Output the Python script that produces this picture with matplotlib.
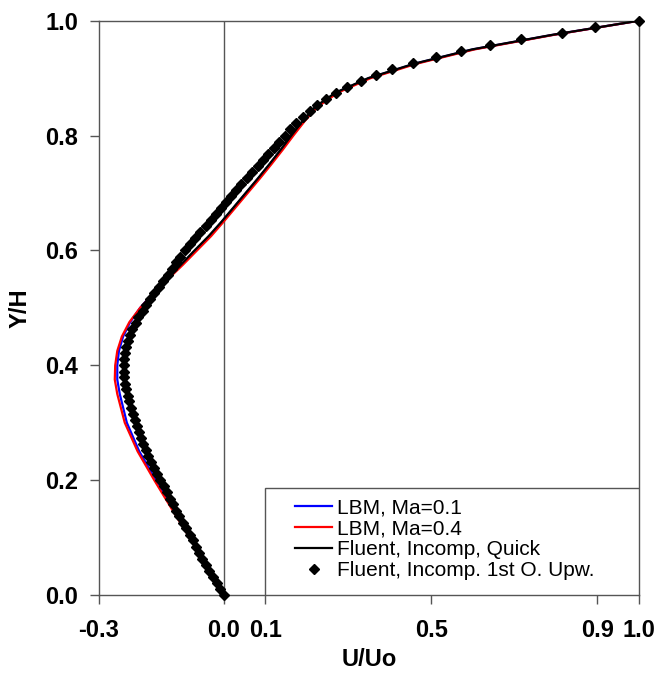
import matplotlib
matplotlib.use("Agg")
import matplotlib.pyplot as plt
from matplotlib.patches import Rectangle

plt.rcParams['font.family'] = ['Liberation Sans', 'DejaVu Sans']
plt.rcParams['axes.unicode_minus'] = False

# ---- data ----
y_lbm = [0.000, 0.050, 0.100, 0.150, 0.200, 0.250, 0.300, 0.350, 0.375, 0.400,
         0.425, 0.450, 0.475, 0.500, 0.525, 0.550, 0.575, 0.600, 0.625, 0.650,
         0.675, 0.700, 0.725, 0.750, 0.775, 0.800, 0.825, 0.850, 0.875, 0.900,
         0.925, 0.950, 0.975, 1.000]
u_lbm01 = [0.000, -0.040, -0.080, -0.122, -0.163, -0.203, -0.233, -0.250, -0.256, -0.256,
           -0.252, -0.242, -0.225, -0.201, -0.171, -0.137, -0.102, -0.068, -0.034, -0.004,
           0.025, 0.054, 0.083, 0.111, 0.138, 0.164, 0.191, 0.222, 0.272, 0.350,
           0.460, 0.600, 0.790, 1.000]
u_lbm04 = [0.000, -0.041, -0.082, -0.125, -0.167, -0.207, -0.238, -0.256, -0.262, -0.261,
           -0.256, -0.245, -0.227, -0.201, -0.169, -0.134, -0.098, -0.064, -0.030, 0.000,
           0.029, 0.058, 0.087, 0.115, 0.142, 0.168, 0.195, 0.226, 0.276, 0.354,
           0.464, 0.604, 0.792, 1.000]
u_quick = [0.000, -0.041, -0.078, -0.118, -0.153, -0.186, -0.213, -0.233, -0.239, -0.241,
           -0.237, -0.229, -0.212, -0.192, -0.165, -0.136, -0.103, -0.070, -0.036, -0.005,
           0.024, 0.053, 0.082, 0.110, 0.137, 0.163, 0.190, 0.220, 0.270, 0.348,
           0.458, 0.598, 0.788, 1.000]

y_upw = [0.000, 0.011, 0.021, 0.032, 0.042, 0.053, 0.063, 0.074, 0.084, 0.095,
         0.105, 0.116, 0.126, 0.137, 0.147, 0.158, 0.168, 0.179, 0.189, 0.200,
         0.211, 0.221, 0.232, 0.242, 0.253, 0.263, 0.274, 0.284, 0.295, 0.305,
         0.316, 0.326, 0.337, 0.347, 0.358, 0.368, 0.379, 0.389, 0.400, 0.411,
         0.421, 0.432, 0.442, 0.453, 0.463, 0.474, 0.484, 0.495, 0.505, 0.516,
         0.526, 0.537, 0.547, 0.558, 0.568, 0.579, 0.589, 0.600, 0.611, 0.621,
         0.632, 0.642, 0.653, 0.663, 0.674, 0.684, 0.695, 0.705, 0.716, 0.726,
         0.737, 0.747, 0.758, 0.768, 0.779, 0.789, 0.800, 0.811, 0.821, 0.832,
         0.842, 0.853, 0.863, 0.874, 0.884, 0.895, 0.905, 0.916, 0.926, 0.937,
         0.947, 0.958, 0.968, 0.979, 0.989, 1.000]
u_upw = [0.000, -0.009, -0.017, -0.026, -0.035, -0.043, -0.051, -0.059, -0.066, -0.074,
         -0.082, -0.090, -0.098, -0.107, -0.115, -0.123, -0.130, -0.137, -0.144, -0.153,
         -0.161, -0.168, -0.176, -0.183, -0.188, -0.193, -0.199, -0.204, -0.209, -0.213,
         -0.218, -0.222, -0.227, -0.231, -0.235, -0.238, -0.240, -0.241, -0.241, -0.240,
         -0.237, -0.234, -0.230, -0.226, -0.220, -0.212, -0.205, -0.195, -0.186, -0.177,
         -0.167, -0.156, -0.146, -0.135, -0.124, -0.114, -0.104, -0.093, -0.081, -0.069,
         -0.056, -0.043, -0.030, -0.018, -0.006, 0.006, 0.018, 0.030, 0.043, 0.056,
         0.069, 0.082, 0.095, 0.108, 0.121, 0.134, 0.147, 0.161, 0.175, 0.190,
         0.207, 0.226, 0.247, 0.271, 0.298, 0.330, 0.366, 0.405, 0.455, 0.512,
         0.572, 0.642, 0.715, 0.815, 0.895, 1.000]

labels = ["LBM, Ma=0.1", "LBM, Ma=0.4", "Fluent, Incomp, Quick", "Fluent, Incomp. 1st O. Upw."]
x_ticks = [-0.3, 0.0, 0.1, 0.5, 0.9, 1.0]
y_ticks = [0.0, 0.2, 0.4, 0.6, 0.8, 1.0]

# ---- figure ----
fig = plt.figure(figsize=(6.61, 6.75), dpi=100)
ax = fig.add_axes([99 / 661, 80 / 675, 540 / 661, 574.3 / 675])

spine_c = '#555555'
ax.axvline(0.0, color=spine_c, lw=1.0, zorder=1)

ax.plot(u_lbm01, y_lbm, color='#0000FF', lw=1.6, label=labels[0], zorder=2)
ax.plot(u_lbm04, y_lbm, color='#FF0000', lw=1.6, label=labels[1], zorder=2)
ax.plot(u_quick, y_lbm, color='black', lw=1.6, label=labels[2], zorder=3)
ax.plot(u_upw, y_upw, linestyle='none', marker='D', markersize=5.2,
        color='black', label=labels[3], zorder=4, clip_on=False)

ax.set_xlim(-0.3, 1.0)
ax.set_ylim(0.0, 1.0)
ax.set_xticks(x_ticks)
ax.set_yticks(y_ticks)
ax.set_xticklabels([f"{v:.1f}" for v in x_ticks])
ax.set_yticklabels([f"{v:.1f}" for v in y_ticks])
for s in ax.spines.values():
    s.set_color(spine_c)
    s.set_linewidth(1.0)
ax.tick_params(axis='both', direction='out', length=6.5, width=1.0, color=spine_c,
               labelsize=17)
ax.tick_params(axis='x', pad=11)
ax.tick_params(axis='y', pad=8.5)
for lab in ax.get_xticklabels() + ax.get_yticklabels():
    lab.set_fontweight('bold')

ax.set_xlabel("U/Uo", fontsize=17, fontweight='bold', labelpad=4)
ax.set_ylabel("Y/H", fontsize=17, fontweight='bold', labelpad=10)

# legend frame from x=0.1 to right edge
x0_ax = (265 - 99) / 540
h_ax = (595 - 487.5) / 574.3
ax.add_patch(Rectangle((x0_ax, 0), 1 - x0_ax, h_ax, transform=ax.transAxes,
                       facecolor='white', edgecolor=spine_c, lw=1.0, zorder=5))
leg = ax.legend(loc='upper left', bbox_to_anchor=((295 - 99) / 540, (595 - 498) / 574.3),
                frameon=False, fontsize=15, borderpad=0, borderaxespad=0,
                handlelength=1.78, handletextpad=0.25, labelspacing=0.1,
                numpoints=1)
leg.set_zorder(6)

fig.savefig("out.png", dpi=100)
